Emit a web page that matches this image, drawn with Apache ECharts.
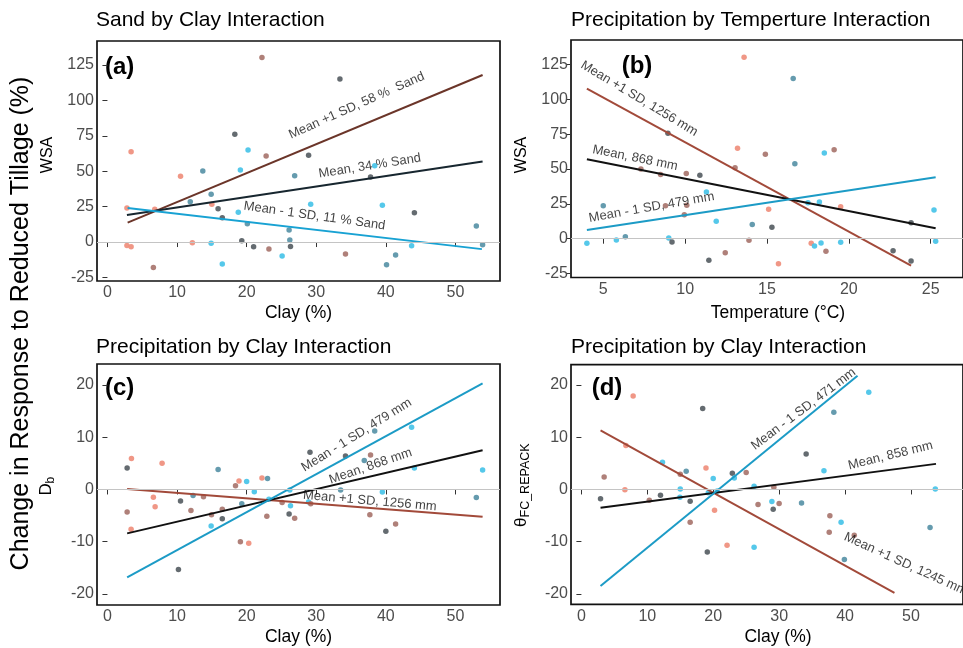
<!DOCTYPE html>
<html><head><meta charset="utf-8">
<script src="https://cdn.jsdelivr.net/npm/echarts@6/dist/echarts.min.js"></script>
<style>html,body{margin:0;padding:0;background:#fff}#c{width:963px;height:648px}</style>
</head><body><div id="c"></div>
<script>
const FONT = 'Liberation Sans, Arial, Helvetica, sans-serif';

// ---------- text ----------
const panelTitles = ['Sand by Clay Interaction', 'Precipitation by Temperture Interaction',
  'Precipitation by Clay Interaction', 'Precipitation by Clay Interaction'];
const panelTags = ['(a)', '(b)', '(c)', '(d)'];
const xAxisTitles = ['Clay (%)', 'Temperature (\u00B0C)', 'Clay (%)', 'Clay (%)'];
const bigYTitle = 'Change in Response to Reduced Tillage (%)';

// ---------- tick labels ----------
const clayTicks = [0, 10, 20, 30, 40, 50];
const tempTicks = [5, 10, 15, 20, 25];
const wsaTicks = [-25, 0, 25, 50, 75, 100, 125];
const smallTicks = [-20, -10, 0, 10, 20];

// ---------- points [x, y, colour group] ----------
const pointsA = [[22.2,130.2,'B'],[33.4,115.1,'D'],[18.3,76,'D'],[20.2,65,'C'],[3.4,63.8,'S'],[22.8,60.7,'B'],
 [28.9,61.2,'D'],[13.7,50.1,'T'],[19.1,50.8,'C'],[10.5,46.4,'S'],[26.9,46.8,'T'],[38.4,53.9,'C'],[37.8,45.9,'D'],
 [14.9,33.7,'T'],[11.9,28.5,'T'],[15.0,26.6,'S'],[2.8,24.0,'S'],[6.8,23.1,'S'],[15.9,23.5,'D'],[16.5,17.2,'D'],
 [18.8,21.0,'C'],[29.2,26.6,'C'],[39.5,25.9,'C'],[44.1,20.7,'D'],[20.1,12.9,'T'],[26.1,8.5,'T'],[53.0,11.3,'T'],
 [2.8,-2.4,'S'],[3.4,-3.3,'S'],[12.2,-0.5,'S'],[14.9,-0.9,'C'],[19.3,0.9,'D'],[21.0,-3.3,'D'],[23.2,-4.9,'B'],
 [26.2,1.4,'T'],[26.3,-3.1,'D'],[25.1,-9.9,'C'],[34.2,-8.5,'B'],[41.4,-9.2,'T'],[43.7,-2.6,'C'],[40.1,-16.0,'T'],
 [16.5,-15.5,'C'],[6.6,-17.9,'B'],[53.9,-1.9,'T']];
const pointsB = [[13.6,130.2,'S'],[16.6,114.9,'T'],[8.95,75.7,'D'],[13.2,64.9,'S'],[14.9,60.6,'B'],[18.5,61.5,'C'],
 [19.1,63.9,'B'],[16.7,53.8,'T'],[13.05,51,'B'],[7.3,50,'B'],[8.5,46,'B'],[10.07,46.7,'B'],[10.9,45.5,'D'],
 [11.3,33.5,'C'],[5.0,23.7,'T'],[8.8,23.7,'B'],[10.1,24,'B'],[9.95,17.2,'B'],[15.1,21.1,'S'],[17.5,25.8,'C'],
 [18.2,26.3,'C'],[19.5,23,'S'],[11.9,12.5,'C'],[14.1,10.1,'T'],[15.3,8.2,'D'],[23.8,11.5,'D'],[25.2,20.6,'C'],
 [4.0,-3.3,'C'],[5.8,-0.9,'C'],[6.35,1.4,'T'],[9.0,0.5,'C'],[9.2,-2.4,'D'],[13.9,-1.2,'B'],[11.45,-15.5,'D'],
 [12.45,-10,'B'],[15.7,-17.9,'S'],[17.7,-3.3,'S'],[17.9,-5.2,'C'],[18.3,-3.1,'C'],[18.6,-9.1,'B'],[19.5,-2.6,'C'],
 [22.7,-8.6,'D'],[23.8,-16,'D'],[25.3,-1.9,'C']];
const pointsC = [[2.83,4.1,'D'],[3.45,5.9,'S'],[7.85,5.0,'S'],[2.83,-4.3,'B'],[3.4,-7.6,'S'],[6.6,-1.5,'S'],
 [6.85,-3.3,'S'],[10.2,-15.3,'D'],[10.5,-2.2,'D'],[12.0,-4.0,'B'],[12.3,-1.15,'T'],[13.8,-1.4,'B'],[15.9,3.8,'T'],
 [14.9,-7.0,'C'],[14.95,-4.85,'B'],[16.5,-3.8,'B'],[16.5,-5.6,'D'],[18.4,0.7,'B'],[18.9,1.6,'S'],[20.0,1.5,'C'],
 [19.3,-2.75,'T'],[19.1,-10.0,'B'],[20.3,-10.3,'S'],[21.1,-0.45,'C'],[22.2,2.2,'S'],[23.0,2.1,'T'],[22.9,-5.1,'B'],
 [23.2,-1.85,'C'],[25.1,-2.5,'B'],[26.1,-4.7,'D'],[26.3,-3.1,'C'],[26.9,-5.5,'B'],[26.2,-0.1,'C'],[29.1,7.1,'D'],
 [28.9,-2.4,'C'],[29.2,-2.75,'B'],[34.2,6.4,'D'],[33.5,-0.1,'T'],[36.9,5.55,'T'],[37.8,6.6,'B'],[38.4,11.2,'T'],
 [37.7,-4.85,'B'],[39.5,-0.5,'C'],[40.0,-8.0,'D'],[41.4,-6.6,'B'],[43.7,11.9,'C'],[44.1,4.1,'C'],[53.0,-1.55,'T'],
 [53.9,3.7,'C']];
const pointsD = [[7.85,17.9,'S'],[18.4,15.5,'D'],[43.6,18.6,'C'],[38.3,14.8,'T'],[6.75,8.4,'S'],[34.1,6.8,'D'],
 [12.3,5.2,'C'],[3.45,2.4,'B'],[15.0,2.9,'B'],[15.9,3.5,'T'],[18.9,4.1,'S'],[20.0,2.1,'C'],[22.9,3.1,'D'],
 [23.2,2.2,'C'],[25.0,3.25,'B'],[36.8,3.6,'C'],[6.6,-0.05,'S'],[15.0,0.1,'C'],[26.2,0.6,'C'],[29.2,0.4,'B'],
 [2.9,-1.8,'D'],[10.3,-2.05,'B'],[12.0,-1.1,'D'],[14.95,-1.5,'C'],[16.5,-2.25,'D'],[19.25,-0.65,'C'],[20.6,-0.3,'C'],
 [20.2,-4.0,'S'],[26.8,-2.9,'B'],[28.9,-2.3,'C'],[29.1,-3.8,'D'],[30.0,-2.7,'B'],[33.4,-2.6,'T'],[16.5,-6.3,'B'],
 [37.7,-5.05,'B'],[39.4,-6.3,'C'],[37.6,-8.2,'B'],[41.4,-8.75,'B'],[52.9,-7.3,'T'],[22.1,-10.7,'S'],[26.2,-11.05,'C'],
 [19.1,-12.0,'D'],[39.9,-13.4,'T'],[53.7,0.1,'C']];

// ---------- fitted lines (end points) ----------
const plusA = [[2.9, 13.7], [53.9, 117.9]];
const meanA = [[2.8, 19.1], [53.9, 56.8]];
const minusA = [[2.9, 24.0], [53.8, -5.0]];
const plusB = [[4.0, 107.7], [23.8, -19.4]];
const meanB = [[4.0, 57.0], [25.3, 7.5]];
const minusB = [[4.0, 6.2], [25.3, 44.1]];
const plusC = [[2.83, 0.1], [53.9, -5.2]];
const meanC = [[2.83, -8.4], [53.9, 7.5]];
const minusC = [[2.83, -16.8], [53.9, 20.3]];
const plusD = [[2.9, 11.3], [47.5, -19.8]];
const meanD = [[2.9, -3.5], [53.8, 4.9]];
const minusD = [[2.9, -18.5], [41.9, 21.8]];

// ---------- line annotation texts ----------
const annotA = ['Mean +1 SD, 58 %  Sand', 'Mean, 34 % Sand', 'Mean - 1 SD, 11 % Sand'];
const annotB = ['Mean +1 SD, 1256 mm', 'Mean, 868 mm', 'Mean - 1 SD, 479 mm'];
const annotC = ['Mean - 1 SD, 479 mm', 'Mean, 868 mm', 'Mean +1 SD, 1256 mm'];
const annotD = ['Mean - 1 SD, 471 mm', 'Mean, 858 mm', 'Mean +1 SD, 1245 mm'];

// ---------- layout / style (not data) ----------
const annotPlaceA = [[35.8, 96.3, 24], [37.7, 53.7, 9], [29.75, 18.4, -8]];
const annotPlaceB = [[7.2, 100.5, -31], [6.95, 57.9, -11.5], [7.95, 22.5, 10]];
const annotPlaceC = [[35.8, 10.4, 32], [37.8, 4.46, 19], [37.7, -2.2, -5]];
const annotPlaceD = [[33.7, 15.4, 37], [46.9, 6.5, 14], [49.2, -14.3, -24.5]];

const palette = {S: '#ef8e7c', B: '#a8756e', D: '#575e64', T: '#5893a7', C: '#46c3e8'};
const grids = [
  {left: 97, top: 41, width: 403, height: 240},
  {left: 571, top: 40, width: 414, height: 237.5},
  {left: 97, top: 364, width: 403, height: 241},
  {left: 571, top: 364.7, width: 414, height: 239.6}
];
const xRanges = [[-1.5, 56.4], [3.03, 26.97], [-1.5, 56.4], [-1.58, 57.9]];
const yRanges = [[-27.5, 141.9], [-27.85, 142.6], [-22.1, 24.0], [-22.0, 23.9]];
const xTickSets = [clayTicks, tempTicks, clayTicks, clayTicks];
const yTickSets = [wsaTicks, wsaTicks, smallTicks, smallTicks];
const lineSets = [[plusA, meanA, minusA], [plusB, meanB, minusB], [plusC, meanC, minusC], [plusD, meanD, minusD]];
const lineColors = [['#6b3529', '#17262f', '#18a2d3'], ['#a24a3a', '#111111', '#1c9bc6'],
  ['#a24a3a', '#111111', '#1c9bc6'], ['#a24a3a', '#111111', '#1c9bc6']];
const pointSets = [pointsA, pointsB, pointsC, pointsD];
const annotTexts = [annotA, annotB, annotC, annotD];
const annotPlaces = [annotPlaceA, annotPlaceB, annotPlaceC, annotPlaceD];

const chart = echarts.init(document.getElementById('c'), null, {renderer: 'canvas'});

const xAxes = [], yAxes = [], series = [];
grids.forEach((g, i) => {
  g.show = true; g.borderColor = '#111'; g.borderWidth = 1.7; g.backgroundColor = 'transparent';
  g.containLabel = false;
  xAxes.push({
    type: 'value', gridIndex: i, min: xRanges[i][0], max: xRanges[i][1],
    axisLine: {show: false}, splitLine: {show: false},
    axisTick: {show: true, length: 5, lineStyle: {color: '#333', width: 1}, customValues: xTickSets[i]},
    axisLabel: {customValues: xTickSets[i], color: '#4d4d4d', fontSize: 16, fontFamily: FONT, margin: 4}
  });
  yAxes.push({
    type: 'value', gridIndex: i, min: yRanges[i][0], max: yRanges[i][1],
    axisLine: {show: false}, splitLine: {show: false},
    axisTick: {show: true, length: 5, lineStyle: {color: '#333', width: 1}, customValues: yTickSets[i]},
    axisLabel: {customValues: yTickSets[i], color: '#4d4d4d', fontSize: 16, fontFamily: FONT, margin: 3}
  });
  // zero reference line
  series.push({
    type: 'line', xAxisIndex: i, yAxisIndex: i, data: [], z: 1, silent: true,
    markLine: {silent: true, symbol: ['none', 'none'], label: {show: false}, animation: false,
      lineStyle: {color: '#c4c4c4', width: 1, type: 'solid'}, data: [{yAxis: 0}]}
  });
  series.push({
    type: 'scatter', xAxisIndex: i, yAxisIndex: i, symbolSize: 5.5, z: 2,
    data: pointSets[i].map(p => ({value: [p[0], p[1]], itemStyle: {color: palette[p[2]], opacity: 0.92}}))
  });
  lineSets[i].forEach((ln, k) => {
    series.push({
      type: 'line', xAxisIndex: i, yAxisIndex: i, data: ln, showSymbol: false, symbol: 'none', z: 3,
      lineStyle: {color: lineColors[i][k], width: 2}, itemStyle: {color: lineColors[i][k]}
    });
  });
  series.push({
    type: 'scatter', xAxisIndex: i, yAxisIndex: i, symbolSize: 0, z: 4, silent: true,
    data: annotPlaces[i].map((a, k) => ({
      value: [a[0], a[1]],
      label: {show: true, position: 'inside', rotate: a[2], formatter: annotTexts[i][k],
        color: '#111', fontSize: 13, fontFamily: FONT}
    }))
  });
});

const titlePos = [[96, 20], [571, 20], [96, 347], [571, 347]];
const tagPos = [[105, 67.5], [621.7, 66.7], [105, 388], [591.7, 388]];
const xTitlePos = [[298.5, 313], [778, 313], [298.5, 637], [778, 637]];

const graphic = [];
panelTitles.forEach((t, i) => graphic.push({type: 'text', x: titlePos[i][0], y: titlePos[i][1],
  style: {text: t, fontSize: 21, fontFamily: FONT, fill: '#000', textAlign: 'left', align: 'left',
    textVerticalAlign: 'middle', verticalAlign: 'middle'}}));
panelTags.forEach((t, i) => graphic.push({type: 'text', x: tagPos[i][0], y: tagPos[i][1],
  style: {text: t, fontSize: 24, fontWeight: 'bold', fontFamily: FONT, fill: '#000', textAlign: 'left', align: 'left',
    textVerticalAlign: 'middle', verticalAlign: 'middle'}}));
xAxisTitles.forEach((t, i) => graphic.push({type: 'text', x: xTitlePos[i][0], y: xTitlePos[i][1],
  style: {text: t, fontSize: 17.5, fontFamily: FONT, fill: '#000', textAlign: 'center', align: 'center',
    textVerticalAlign: 'middle', verticalAlign: 'middle'}}));

function rotText(cx, cy, parts) {
  return {type: 'group', x: cx, y: cy, rotation: Math.PI / 2, children: parts.map(p => ({
    type: 'text', x: p.x, y: p.y,
    style: {text: p.t, fontSize: p.fs, fontFamily: FONT, fill: '#000', textAlign: p.al || 'left', align: p.al || 'left',
      textVerticalAlign: 'middle', verticalAlign: 'middle'}}))};
}
graphic.push(rotText(21, 323.5, [{t: bigYTitle, fs: 25, x: 0, y: 0, al: 'center'}]));
graphic.push(rotText(48, 155, [{t: 'WSA', fs: 16, x: 0, y: 0, al: 'center'}]));
graphic.push(rotText(522, 155, [{t: 'WSA', fs: 16, x: 0, y: 0, al: 'center'}]));
graphic.push(rotText(46, 486, [{t: 'D', fs: 17, x: -9.5, y: 0}, {t: 'b', fs: 12, x: 2.5, y: 5}]));
graphic.push(rotText(521, 484, [{t: '\u03B8', fs: 17, x: -43, y: 0}, {t: 'FC_REPACK', fs: 12.5, x: -33.5, y: 5}]));

chart.setOption({
  animation: false,
  backgroundColor: '#fff',
  grid: grids, xAxis: xAxes, yAxis: yAxes, series: series, graphic: graphic
});
</script></body></html>
